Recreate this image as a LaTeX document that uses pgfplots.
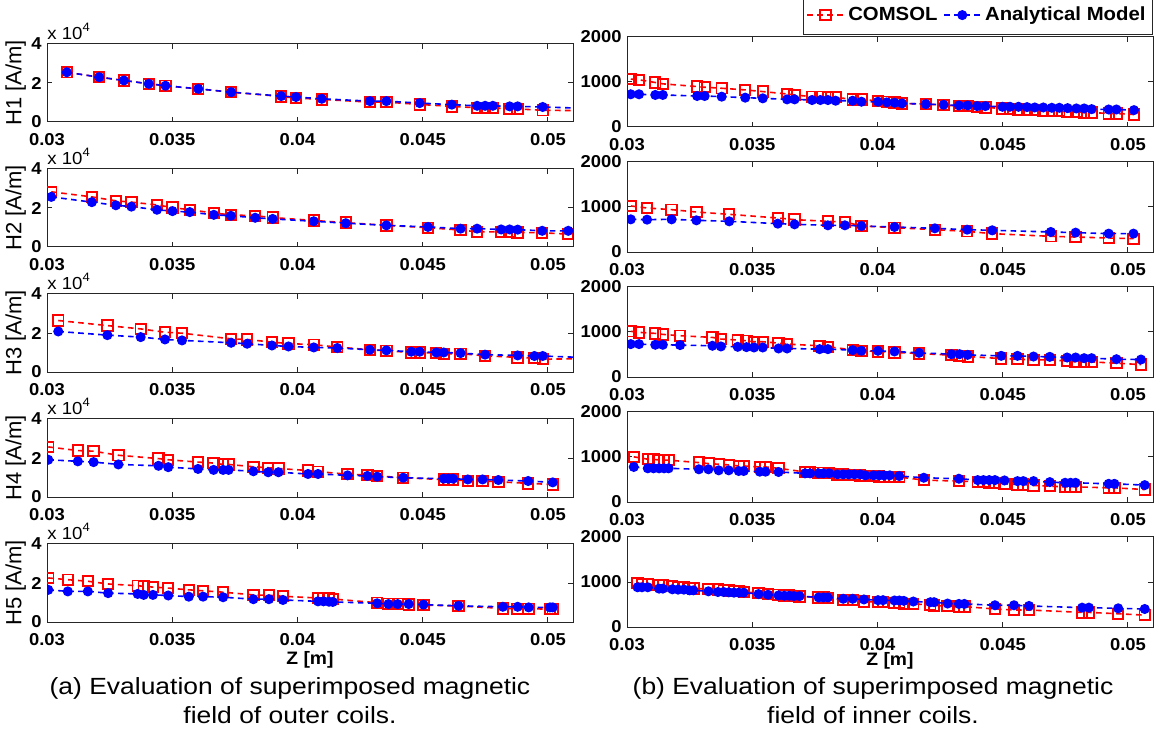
\documentclass[border=0pt]{standalone}
\usepackage{fontspec}
\setmainfont{Liberation Sans}[FakeStretch=1.07]
\newfontfamily\capfont{Liberation Sans}[FakeStretch=1.13]
\newfontfamily\plainfont{Liberation Sans}
\usepackage{pgfplots}
\pgfplotsset{compat=1.18}

\definecolor{mred}{RGB}{255,0,0}
\definecolor{mblue}{RGB}{0,0,255}

\pgfplotsset{
  hbase/.style={
    scale only axis, width=263pt,
    xmin=0.03, xmax=0.051,
    xtick={0.03,0.035,0.04,0.045,0.05},
    xticklabels={0.03,0.035,0.04,0.045,0.05},
    scaled x ticks=false, scaled y ticks=false,
    tick align=inside, major tick length=2.5pt,
    axis line style={black!85, line width=0.5pt},
    every tick/.style={black!85, line width=0.5pt},
    tick label style={font=\bfseries\fontsize{8.6}{10}\selectfont},
    xticklabel style={yshift=-2pt},
    yticklabel style={xshift=0.8pt},
    clip marker paths=true,
  },
  leftax/.style={hbase, height=39pt, ymin=0, ymax=4,
    ytick={0,2,4}, yticklabels={0,2,4},
    ylabel style={at={(axis description cs:-0.0595,0.5)}, anchor=center,
      font=\plainfont\fontsize{11}{12}\selectfont},
    extra description/.code={
      \node[anchor=base west, font=\fontsize{8.7}{10}\selectfont, inner sep=0pt]
        at (axis description cs:0,1) [yshift=2.4pt] {x 10\textsuperscript{4}};},
  },
  rightax/.style={hbase, height=45pt, ymin=0, ymax=2000,
    ytick={0,1000,2000}, yticklabels={0,1000,2000}},
  com/.style={mred, line width=0.8pt, dash pattern=on 2.8pt off 2.2pt,
    mark=square, mark size=2.6pt, mark options={solid, line width=0.95pt}},
  ana/.style={mblue, line width=0.8pt, dash pattern=on 2.8pt off 2.2pt,
    mark=*, mark size=2.1pt, mark options={solid}},
  zlab/.style={xlabel={Z [m]}, xlabel style={at={(rel axis cs:0.5,0)}, anchor=center,
    font=\bfseries\fontsize{9}{10}\selectfont}},
}

\begin{document}
\begin{tikzpicture}
\path[use as bounding box] (0,0) rectangle (581.5pt,-366pt);

% ---------- (a) outer coils, values in 10^4 A/m ----------
\begin{axis}[leftax, at={(23.5pt,-22pt)}, anchor=north west, ylabel={H1 [A/m]}]
\addplot[com] coordinates {(0.03079,2.55) (0.03208,2.30) (0.03307,2.13) (0.03406,1.96)
 (0.03473,1.86) (0.03604,1.70) (0.03735,1.53) (0.03935,1.31) (0.03994,1.23) (0.04097,1.16)
 (0.04289,1.02) (0.04355,1.02) (0.04488,0.90) (0.04616,0.80) (0.04717,0.73) (0.04749,0.73)
 (0.04780,0.72) (0.04847,0.68) (0.04879,0.67) (0.04979,0.60) (0.0515,0.58)};
\addplot[ana] coordinates {(0.03079,2.55) (0.03208,2.30) (0.03307,2.13) (0.03406,1.96)
 (0.03473,1.86) (0.03604,1.70) (0.03735,1.53) (0.03935,1.33) (0.03994,1.28) (0.04097,1.19)
 (0.04289,1.07) (0.04355,1.07) (0.04488,0.97) (0.04616,0.89) (0.04717,0.83) (0.04749,0.83)
 (0.04780,0.83) (0.04847,0.80) (0.04879,0.80) (0.04979,0.77) (0.0515,0.70)};
\end{axis}

\begin{axis}[leftax, at={(23.5pt,-84.5pt)}, anchor=north west, ylabel={H2 [A/m]}]
\addplot[com] coordinates {(0.03017,2.83) (0.03179,2.57) (0.03275,2.37) (0.03337,2.30)
 (0.03439,2.16) (0.03501,2.02) (0.03570,1.91) (0.03666,1.74) (0.03734,1.65) (0.03831,1.60)
 (0.03901,1.51) (0.04065,1.36) (0.04193,1.25) (0.04355,1.11) (0.04521,0.99) (0.04651,0.87)
 (0.04717,0.78) (0.04813,0.77) (0.04847,0.77) (0.04879,0.75) (0.04977,0.73) (0.05081,0.66)};
\addplot[ana] coordinates {(0.03017,2.57) (0.03179,2.30) (0.03275,2.14) (0.03337,2.07)
 (0.03439,1.91) (0.03501,1.84) (0.03570,1.79) (0.03666,1.65) (0.03734,1.60) (0.03831,1.50)
 (0.03901,1.44) (0.04065,1.32) (0.04193,1.22) (0.04355,1.11) (0.04521,1.03) (0.04651,0.94)
 (0.04717,0.94) (0.04813,0.90) (0.04847,0.90) (0.04879,0.89) (0.04977,0.83) (0.05081,0.83)};
\end{axis}

\begin{axis}[leftax, at={(23.5pt,-147pt)}, anchor=north west, ylabel={H3 [A/m]}]
\addplot[com] coordinates {(0.03045,2.64) (0.03241,2.38) (0.03374,2.21) (0.03471,2.04)
 (0.03539,1.99) (0.03735,1.70) (0.03799,1.67) (0.03898,1.53) (0.03964,1.46) (0.04065,1.40)
 (0.04159,1.28) (0.04289,1.14) (0.04355,1.09) (0.04454,1.00) (0.04488,1.00) (0.04554,0.97)
 (0.04584,0.92) (0.04651,0.94) (0.04749,0.83) (0.04879,0.75) (0.04946,0.71) (0.04979,0.66)
 (0.0515,0.68)};
\addplot[ana] coordinates {(0.03045,2.08) (0.03241,1.89) (0.03374,1.79) (0.03471,1.67)
 (0.03539,1.62) (0.03735,1.50) (0.03799,1.45) (0.03898,1.36) (0.03964,1.31) (0.04065,1.26)
 (0.04159,1.23) (0.04289,1.14) (0.04355,1.11) (0.04454,1.04) (0.04488,1.04) (0.04554,1.00)
 (0.04584,1.00) (0.04651,0.97) (0.04749,0.89) (0.04879,0.85) (0.04946,0.82) (0.04979,0.82)
 (0.0515,0.74)};
\end{axis}

\begin{axis}[leftax, at={(23.5pt,-209.5pt)}, anchor=north west, ylabel={H4 [A/m]}]
\addplot[com] coordinates {(0.03005,2.57) (0.03123,2.38) (0.03186,2.35) (0.03285,2.14)
 (0.03445,1.97) (0.03484,1.91) (0.03603,1.79) (0.03665,1.74) (0.03703,1.67) (0.03725,1.67)
 (0.03824,1.55) (0.03883,1.50) (0.03924,1.46) (0.04042,1.36) (0.04082,1.30) (0.04200,1.17)
 (0.04279,1.13) (0.04318,1.08) (0.04422,0.99) (0.04584,0.89) (0.04603,0.89) (0.04621,0.89)
 (0.04680,0.83) (0.04739,0.83) (0.04802,0.78) (0.04921,0.70) (0.05019,0.64)};
\addplot[ana] coordinates {(0.03005,1.91) (0.03123,1.83) (0.03186,1.79) (0.03285,1.67)
 (0.03445,1.60) (0.03484,1.53) (0.03603,1.44) (0.03665,1.39) (0.03703,1.39) (0.03725,1.39)
 (0.03824,1.32) (0.03883,1.27) (0.03924,1.27) (0.04042,1.18) (0.04082,1.18) (0.04200,1.11)
 (0.04279,1.08) (0.04318,1.04) (0.04422,0.99) (0.04584,0.94) (0.04603,0.94) (0.04621,0.94)
 (0.04680,0.90) (0.04739,0.90) (0.04802,0.87) (0.04921,0.82) (0.05019,0.75)};
\end{axis}

\begin{axis}[leftax, zlab, xlabel style={yshift=-19pt}, at={(23.5pt,-272pt)}, anchor=north west, ylabel={H5 [A/m]}]
\addplot[com] coordinates {(0.03005,2.26) (0.03083,2.17) (0.03163,2.09) (0.03244,1.95)
 (0.03362,1.86) (0.03386,1.83) (0.03423,1.79) (0.03484,1.74) (0.03566,1.65) (0.03623,1.60)
 (0.03703,1.53) (0.03824,1.39) (0.03886,1.37) (0.03942,1.32) (0.04082,1.23) (0.04104,1.23)
 (0.04126,1.20) (0.04141,1.18) (0.04318,0.99) (0.04363,0.94) (0.04400,0.94) (0.04444,0.90)
 (0.04503,0.87) (0.04643,0.82) (0.04820,0.70) (0.04879,0.68) (0.04923,0.68) (0.05008,0.66)
 (0.05019,0.66)};
\addplot[ana] coordinates {(0.03005,1.65) (0.03083,1.57) (0.03163,1.57) (0.03244,1.48)
 (0.03362,1.44) (0.03386,1.39) (0.03423,1.39) (0.03484,1.36) (0.03566,1.30) (0.03623,1.30)
 (0.03703,1.27) (0.03824,1.17) (0.03886,1.17) (0.03942,1.13) (0.04082,1.06) (0.04104,1.06)
 (0.04126,1.04) (0.04141,1.03) (0.04318,0.96) (0.04363,0.92) (0.04400,0.92) (0.04444,0.92)
 (0.04503,0.89) (0.04643,0.83) (0.04820,0.78) (0.04879,0.78) (0.04923,0.75) (0.05008,0.75)
 (0.05019,0.75)};
\end{axis}

% ---------- (b) inner coils, A/m ----------
\begin{axis}[rightax, at={(313.5pt,-18.5pt)}, anchor=north west,
  legend style={at={(rel axis cs:1,1)}, anchor=south east, yshift=1pt,
    draw=black!85, line width=0.5pt, inner xsep=1.5pt, inner ysep=3.5pt,
    font=\bfseries\fontsize{9.5}{11}\selectfont, legend columns=2,
    /tikz/every even column/.append style={column sep=1pt}},
  legend image code/.code={
    \draw[mark repeat=2, mark phase=2] plot coordinates {(0pt,0pt) (9pt,0pt) (18pt,0pt)};},
  legend cell align=left]
\addplot[com] coordinates {(0.03015,1064) (0.03048,1049) (0.03113,989) (0.03143,959)
 (0.03280,899) (0.03310,884) (0.03378,861) (0.03472,824) (0.03542,787) (0.03639,734)
 (0.03669,712) (0.03739,674) (0.03772,674) (0.03802,659) (0.03833,659) (0.03901,614)
 (0.03936,614) (0.04002,577) (0.04037,562) (0.04068,547) (0.04098,524) (0.04193,509)
 (0.04264,487) (0.04325,464) (0.04360,464) (0.04398,449) (0.04431,434) (0.04499,412)
 (0.04529,397) (0.04563,389) (0.04597,375) (0.04628,375) (0.04662,360) (0.04696,352)
 (0.04726,352) (0.04759,337) (0.04794,337) (0.04825,322) (0.04855,322) (0.04923,300)
 (0.04954,300) (0.05024,277)};
\addlegendentry{COMSOL}
\addplot[ana] coordinates {(0.03015,727) (0.03048,727) (0.03113,712) (0.03143,712)
 (0.03280,689) (0.03310,689) (0.03378,674) (0.03472,652) (0.03542,637) (0.03639,614)
 (0.03669,614) (0.03739,599) (0.03772,599) (0.03802,599) (0.03833,584) (0.03901,584)
 (0.03936,562) (0.04002,562) (0.04037,547) (0.04068,539) (0.04098,524) (0.04193,509)
 (0.04264,494) (0.04325,479) (0.04360,479) (0.04398,464) (0.04431,464) (0.04499,449)
 (0.04529,449) (0.04563,449) (0.04597,442) (0.04628,434) (0.04662,434) (0.04696,427)
 (0.04726,427) (0.04759,419) (0.04794,412) (0.04825,412) (0.04855,397) (0.04923,389)
 (0.04954,389) (0.05024,375)};
\addlegendentry{Analytical Model}
\end{axis}

\begin{axis}[rightax, at={(313.5pt,-81pt)}, anchor=north west]
\addplot[com] coordinates {(0.03015,1023) (0.03080,978) (0.03178,941) (0.03277,889)
 (0.03408,837) (0.03602,756) (0.03669,719) (0.03802,682) (0.03870,667) (0.03936,578)
 (0.04068,541) (0.04229,496) (0.04358,459) (0.04458,408) (0.04692,348) (0.04791,333)
 (0.04923,311) (0.05022,296)};
\addplot[ana] coordinates {(0.03015,726) (0.03080,719) (0.03178,726) (0.03277,704)
 (0.03408,682) (0.03602,630) (0.03669,615) (0.03802,593) (0.03870,593) (0.03936,578)
 (0.04068,556) (0.04229,526) (0.04358,496) (0.04458,482) (0.04692,445) (0.04791,430)
 (0.04923,408) (0.05022,408)};
\end{axis}

\begin{axis}[rightax, at={(313.5pt,-143.5pt)}, anchor=north west]
\addplot[com] coordinates {(0.03015,1015) (0.03048,992) (0.03113,969) (0.03143,947)
 (0.03212,917) (0.03341,880) (0.03375,843) (0.03442,821) (0.03477,806) (0.03507,783)
 (0.03542,783) (0.03605,753) (0.03639,731) (0.03769,694) (0.03802,671) (0.03901,604)
 (0.03936,582) (0.04002,567) (0.04068,545) (0.04166,522) (0.04295,485) (0.04328,470)
 (0.04360,455) (0.04494,410) (0.04559,395) (0.04623,380) (0.04688,380) (0.04757,358)
 (0.04791,336) (0.04825,336) (0.04855,336) (0.04954,306) (0.05052,276)};
\addplot[ana] coordinates {(0.03015,731) (0.03048,731) (0.03113,716) (0.03143,716)
 (0.03212,709) (0.03341,694) (0.03375,679) (0.03442,671) (0.03477,664) (0.03507,656)
 (0.03542,656) (0.03605,634) (0.03639,634) (0.03769,619) (0.03802,619) (0.03901,597)
 (0.03936,582) (0.04002,582) (0.04068,567) (0.04166,537) (0.04295,507) (0.04328,507)
 (0.04360,492) (0.04494,470) (0.04559,470) (0.04623,455) (0.04688,448) (0.04757,433)
 (0.04791,433) (0.04825,418) (0.04855,418) (0.04954,395) (0.05052,388)};
\end{axis}

\begin{axis}[rightax, at={(313.5pt,-206pt)}, anchor=north west]
\addplot[com] coordinates {(0.03027,1004) (0.03083,951) (0.03106,944) (0.03128,936)
 (0.03148,929) (0.03166,929) (0.03287,876) (0.03325,854) (0.03366,839) (0.03406,824)
 (0.03446,801) (0.03466,801) (0.03530,779) (0.03553,779) (0.03605,749) (0.03711,667)
 (0.03731,667) (0.03765,652) (0.03784,652) (0.03807,637) (0.03840,614) (0.03863,614)
 (0.03885,599) (0.03908,599) (0.03931,592) (0.03951,577) (0.03984,577) (0.04007,569)
 (0.04026,554) (0.04049,554) (0.04087,554) (0.04185,487) (0.04325,464) (0.04400,449)
 (0.04423,441) (0.04446,434) (0.04469,419) (0.04507,404) (0.04559,389) (0.04582,389)
 (0.04623,367) (0.04688,352) (0.04749,337) (0.04771,337) (0.04791,337) (0.04923,315)
 (0.04946,315) (0.05067,277)};
\addplot[ana] coordinates {(0.03027,779) (0.03083,749) (0.03106,749) (0.03128,749)
 (0.03148,749) (0.03166,749) (0.03287,727) (0.03325,727) (0.03366,704) (0.03406,704)
 (0.03446,689) (0.03466,689) (0.03530,674) (0.03553,674) (0.03605,667) (0.03711,637)
 (0.03731,637) (0.03765,637) (0.03784,637) (0.03807,637) (0.03840,614) (0.03863,614)
 (0.03885,614) (0.03908,614) (0.03931,614) (0.03951,592) (0.03984,592) (0.04007,592)
 (0.04026,592) (0.04049,592) (0.04087,577) (0.04185,539) (0.04325,517) (0.04400,487)
 (0.04423,487) (0.04446,487) (0.04469,487) (0.04507,479) (0.04559,464) (0.04582,464)
 (0.04623,464) (0.04688,442) (0.04749,427) (0.04771,427) (0.04791,427) (0.04923,404)
 (0.04946,404) (0.05067,375)};
\end{axis}

\begin{axis}[rightax, zlab, xlabel style={yshift=-17pt}, at={(313.5pt,-268.5pt)}, anchor=north west]
\addplot[com] coordinates {(0.03042,982) (0.03060,959) (0.03083,944) (0.03128,929)
 (0.03143,921) (0.03181,906) (0.03204,883) (0.03227,883) (0.03250,868) (0.03265,853)
 (0.03325,846) (0.03363,831) (0.03386,815) (0.03406,808) (0.03427,793) (0.03446,793)
 (0.03466,778) (0.03525,755) (0.03563,732) (0.03605,717) (0.03628,702) (0.03648,702)
 (0.03666,687) (0.03689,680) (0.03765,657) (0.03784,657) (0.03802,642) (0.03863,604)
 (0.03901,604) (0.03946,566) (0.04002,551) (0.04022,551) (0.04068,536) (0.04087,528)
 (0.04105,513) (0.04143,513) (0.04211,491) (0.04226,476) (0.04280,468) (0.04325,453)
 (0.04347,453) (0.04469,400) (0.04545,377) (0.04605,377) (0.04817,325) (0.04844,325)
 (0.04961,294) (0.05067,264)};
\addplot[ana] coordinates {(0.03042,883) (0.03060,883) (0.03083,883) (0.03128,853)
 (0.03143,853) (0.03181,838) (0.03204,831) (0.03227,831) (0.03250,815) (0.03265,815)
 (0.03325,793) (0.03363,778) (0.03386,778) (0.03406,770) (0.03427,763) (0.03446,763)
 (0.03466,763) (0.03525,732) (0.03563,717) (0.03605,702) (0.03628,695) (0.03648,695)
 (0.03666,687) (0.03689,687) (0.03765,657) (0.03784,657) (0.03802,657) (0.03863,627)
 (0.03901,627) (0.03946,612) (0.04002,596) (0.04022,596) (0.04068,589) (0.04087,589)
 (0.04105,581) (0.04143,566) (0.04211,551) (0.04226,551) (0.04280,521) (0.04325,513)
 (0.04347,513) (0.04469,483) (0.04545,483) (0.04605,468) (0.04817,430) (0.04844,430)
 (0.04961,415) (0.05067,400)};
\end{axis}

% ---------- sub-captions ----------
\node[align=center, font=\capfont\fontsize{11.7}{14.5}\selectfont] at (145pt,-350.25pt)
  {(a) Evaluation of superimposed magnetic\\field of outer coils.};
\node[align=center, font=\capfont\fontsize{11.7}{14.5}\selectfont] at (436.5pt,-350.25pt)
  {(b) Evaluation of superimposed magnetic\\field of inner coils.};
\end{tikzpicture}
\end{document}
